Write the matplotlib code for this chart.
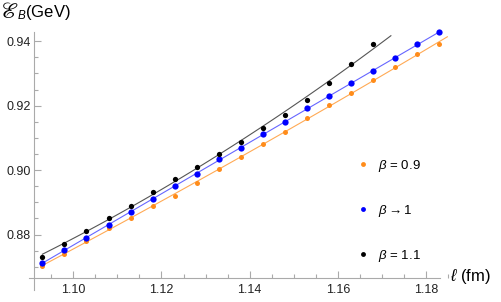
import numpy as np
import matplotlib.pyplot as plt
from matplotlib.lines import Line2D

plt.rcParams['font.family'] = ['Liberation Sans', 'DejaVu Sans']
plt.rcParams['mathtext.fontset'] = 'custom'
plt.rcParams['mathtext.rm'] = 'Liberation Sans'
plt.rcParams['mathtext.it'] = 'Liberation Sans:italic'
plt.rcParams['mathtext.fallback'] = 'stix'

# data
ell = [1.093, 1.098, 1.103, 1.108, 1.113, 1.118, 1.123, 1.128, 1.133, 1.138,
       1.143, 1.148, 1.153, 1.158, 1.163, 1.168, 1.173, 1.178, 1.183]
e_09 = [0.8703, 0.8741, 0.8780, 0.8819, 0.8850, 0.8889, 0.8919, 0.8959, 0.9002, 0.9041,
        0.9080, 0.9119, 0.9161, 0.9201, 0.9240, 0.9279, 0.9321, 0.9360, 0.9391]
e_10 = [0.8712, 0.8752, 0.8790, 0.8829, 0.8870, 0.8911, 0.8950, 0.8988, 0.9033, 0.9070,
        0.9111, 0.9149, 0.9192, 0.9231, 0.9269, 0.9308, 0.9347, 0.9391, 0.9429]
ell_11 = ell[:16]
e_11 = [0.8729, 0.8772, 0.8811, 0.8850, 0.8889, 0.8933, 0.8971, 0.9010, 0.9050, 0.9088,
        0.9131, 0.9171, 0.9217, 0.9270, 0.9330, 0.9391]

labels = [r'$\beta$ = 0.9', r'$\beta \rightarrow 1$', r'$\beta$ = 1.1']
series = [
    (ell, e_09, '#ff8c1a', '#ffaa55', 3.6, 1.1848),
    (ell, e_10, '#0000ff', '#6666ff', 4.5, 1.1832),
    (ell_11, e_11, '#000000', '#555555', 3.8, 1.172),
]

fig = plt.figure(figsize=(5.01, 3.02), dpi=100)
ax = fig.add_axes([34/501, 1-278/302, 416/501, 250/302])

for x, y, c, lc, ms, xend in series:
    # smooth fitted curve through each set of points
    coef = np.polyfit(x, y, 2)
    xs = np.linspace(x[0], xend, 100)
    ax.plot(xs, np.polyval(coef, xs), color=lc, lw=0.8, zorder=2)
    ax.plot(x, y, 'o', color=c, ms=ms, mec='none', zorder=3)

ax.set_xlim(1.0911, 1.1854)
ax.set_ylim(0.8665, 0.9441)

for s in ['top', 'right']:
    ax.spines[s].set_visible(False)
for s in ['left', 'bottom']:
    ax.spines[s].set_color('#aaaaaa')
    ax.spines[s].set_linewidth(0.8)
ax.spines['left'].set_bounds(0.8627, 0.9429)
ax.spines['bottom'].set_bounds(1.0900, 1.1832)

ax.set_xticks([1.10, 1.12, 1.14, 1.16, 1.18])
ax.set_xticklabels(['1.10', '1.12', '1.14', '1.16', '1.18'])
ax.set_xticks(np.arange(1.095, 1.185, 0.005), minor=True)
ax.set_yticks([0.88, 0.90, 0.92, 0.94])
ax.set_yticklabels(['0.88', '0.90', '0.92', '0.94'])
ax.set_yticks(np.arange(0.870, 0.9441, 0.005), minor=True)
ax.tick_params(which='both', direction='in', color='#aaaaaa', width=0.8,
               labelsize=9, labelcolor='#222222')
ax.tick_params(which='major', length=5)
ax.tick_params(which='minor', length=3)
ax.tick_params(axis='y', pad=2.5)
ax.tick_params(axis='x', pad=4)

fig.text(450/501, 1-277/302, r'$\ell$ (fm)', fontsize=12, ha='left', va='center')
# y label: big script E, subscript B, then the unit
fig.text(0, 1-12/302, r'$ℰ$', fontsize=16, ha='left', va='center')
fig.text(17/501, 1-13/302, r'${}_B$(GeV)', fontsize=12, ha='left', va='center')

handles = [Line2D([], [], marker='o', ls='none', color=c, mec='none', ms=3.5)
           for _, _, c, _, _, _ in series]
ax.legend(handles, labels, loc='upper left', bbox_to_anchor=(349.4/501, 1-151/302),
          bbox_transform=fig.transFigure, frameon=False, fontsize=9.5,
          handlelength=1, handletextpad=0.7, labelspacing=2.2, borderpad=0)

fig.savefig('out.png', dpi=100)
